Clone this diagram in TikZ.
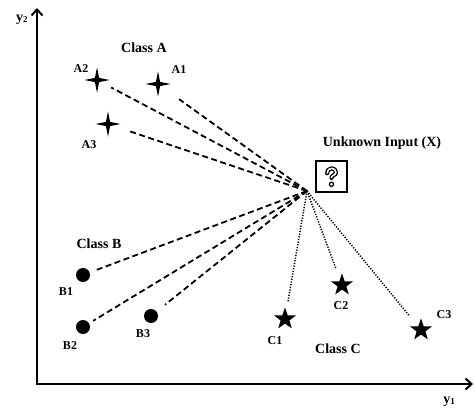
\documentclass[tikz,border=0pt]{standalone}
\usepackage{fontspec}
\setmainfont{Liberation Serif}
\usetikzlibrary{shapes.geometric,arrows.meta}

\begin{document}
\begin{tikzpicture}[x=1pt,y=-1pt,
  lbl/.style={font=\bfseries\fontsize{12}{12}\selectfont, inner sep=0},
  cls/.style={font=\bfseries\fontsize{14}{14}\selectfont, inner sep=0},
  sparkle/.style={star, star points=4, star point ratio=4.2, minimum size=25pt, fill=black, inner sep=0},
  pentastar/.style={star, star points=5, star point ratio=2.5, minimum size=23pt, fill=black, inner sep=0},
  dotmark/.style={circle, fill=black, minimum size=14pt, inner sep=0},
  axis/.style={line width=2.2pt, {Straight Barb[length=6pt,width=11pt,line width=2pt]}-{Straight Barb[length=6pt,width=11pt,line width=2pt]}},
  dashlink/.style={line width=1.8pt, dash pattern=on 6pt off 3.5pt},
  dotlink/.style={line width=1.5pt, dash pattern=on 1.2pt off 1.5pt},
  qhook/.style={line cap=round, line join=round},
]
\useasboundingbox (0,0) rectangle (475,410);

% axes
\coordinate (ytop) at (37,8);
\coordinate (origin) at (37,384);
\coordinate (xend) at (473,384);
\draw[axis] (ytop) -- (origin) -- (xend);
\node[inner sep=0] (ylab) at (22,20) {\bfseries\fontsize{14}{14}\selectfont y\raisebox{-0.5pt}{\fontsize{9}{9}\selectfont 2}};
\node[inner sep=0] (xlab) at (449,402) {\bfseries\fontsize{14}{14}\selectfont y\raisebox{-0.5pt}{\fontsize{9}{9}\selectfont 1}};

% class A
\node[sparkle] (A1) at (158,84) {};
\node[sparkle] (A2) at (97,80) {};
\node[sparkle] (A3) at (108,124) {};
\node[cls] (classA) at (144,48) {Class A};
\node[lbl] (lA1) at (179,70) {A1};
\node[lbl] (lA2) at (81,69) {A2};
\node[lbl] (lA3) at (89,145) {A3};

% class B
\node[dotmark] (B1) at (83,275) {};
\node[dotmark] (B2) at (83,327) {};
\node[dotmark] (B3) at (151,316) {};
\node[cls] (classB) at (99,244) {Class B};
\node[lbl] (lB1) at (66,292) {B1};
\node[lbl] (lB2) at (70,346) {B2};
\node[lbl] (lB3) at (143,334) {B3};

% class C
\node[pentastar] (C1) at (285,319) {};
\node[pentastar] (C2) at (342,285) {};
\node[pentastar] (C3) at (421,330) {};
\node[cls] (classC) at (338,349) {Class C};
\node[lbl] (lC1) at (275,341) {C1};
\node[lbl] (lC2) at (341,306) {C2};
\node[lbl] (lC3) at (444,315) {C3};

% unknown input: framed outlined question mark
\node[draw, line width=1.8pt, minimum size=31pt, inner sep=0] (box) at (331.5,176.5) {};
\node[cls] (unk) at (382,143) {Unknown Input (X)};
\begin{scope}[shift={(box.center)}]
  \draw[qhook, line width=4.2pt]
    (-4.3,-3.2) .. controls (-4.3,-9.6) and (4.5,-9.6) .. (4.5,-4)
    .. controls (4.5,-1.2) and (0,-1.6) .. (0,1.4);
  \draw[qhook, white, line width=1.5pt]
    (-4.3,-3.5) .. controls (-4.3,-9.6) and (4.5,-9.6) .. (4.5,-4)
    .. controls (4.5,-1.2) and (0,-1.6) .. (0,1.1);
  \draw[line width=1.3pt, fill=white] (0,7.8) circle (2.1);
\end{scope}

% links from the unknown input
\coordinate (hub) at (307,191);
\draw[dashlink, shorten >=26pt] (hub) -- (A1.center);
\draw[dashlink, shorten >=16pt] (hub) -- (A2.center);
\draw[dashlink, shorten >=20pt] (hub) -- (A3.center);
\draw[dashlink, shorten >=12pt] (hub) -- (B1.center);
\draw[dashlink, shorten >=12pt] (hub) -- (B2.center);
\draw[dashlink, shorten >=18pt] (hub) -- (B3.center);
\draw[dotlink, shorten >=17pt] (hub) -- (C1.center);
\draw[dotlink, shorten >=18pt] (hub) -- (C2.center);
\draw[dotlink, shorten >=18pt] (hub) -- (C3.center);
\end{tikzpicture}
\end{document}
